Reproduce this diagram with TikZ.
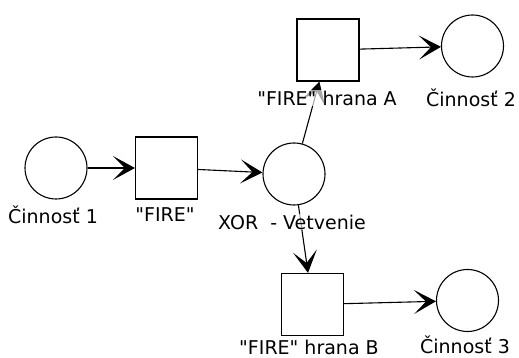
\documentclass[tikz,border=0pt]{standalone}
\usepackage{fontspec}
\setmainfont{DejaVu Sans}[Ligatures=TeXOff]
\usetikzlibrary{arrows.meta}
\begin{document}
\begin{tikzpicture}[x=1pt,y=1pt,
  place/.style={draw,circle,line width=1.1pt,minimum size=62pt,inner sep=0pt},
  trans/.style={draw,rectangle,line width=1.2pt,minimum size=62pt,inner sep=0pt},
  arc/.style={line width=1.1pt,-{Stealth[length=22pt,width=24pt,inset=12pt]}},
  lbl/.style={font=\fontsize{19}{21}\selectfont,fill=white,fill opacity=0.65,text opacity=1,inner sep=1pt}]
\useasboundingbox (0,0) rectangle (519,358);
\clip (0,0) rectangle (519,358);
\fill[white] (0,0) rectangle (519,358);
\node[place] (c1) at (56,190) {};
\node[trans] (f) at (166.5,190) {};
\node[place] (x) at (294,184) {};
\node[trans] (fa) at (328,308) {};
\node[place] (c2) at (472.5,312) {};
\node[trans] (fb) at (312.5,53.5) {};
\node[place] (c3) at (467.5,57.5) {};
\draw[arc] (c1) -- (f);
\draw[arc] (f) -- (x);
\draw[arc] (x) -- (fa);
\draw[arc] (x) -- (fb);
\draw[arc] (fa) -- (c2);
\draw[arc] (fb) -- (c3);
\node[lbl] (l1) at (53,143) {Činnosť 1};
\node[lbl] (l2) at (165,143) {"FIRE"};
\node[lbl] (l3) at (292,136) {XOR\ \ - Vetvenie};
\node[lbl] (l4) at (327,260) {"FIRE" hrana A};
\node[lbl] (l5) at (471,260) {Činnosť 2};
\node[lbl] (l6) at (309,11) {"FIRE" hrana B};
\node[lbl] (l7) at (465,13) {Činnosť 3};
\end{tikzpicture}
\end{document}
